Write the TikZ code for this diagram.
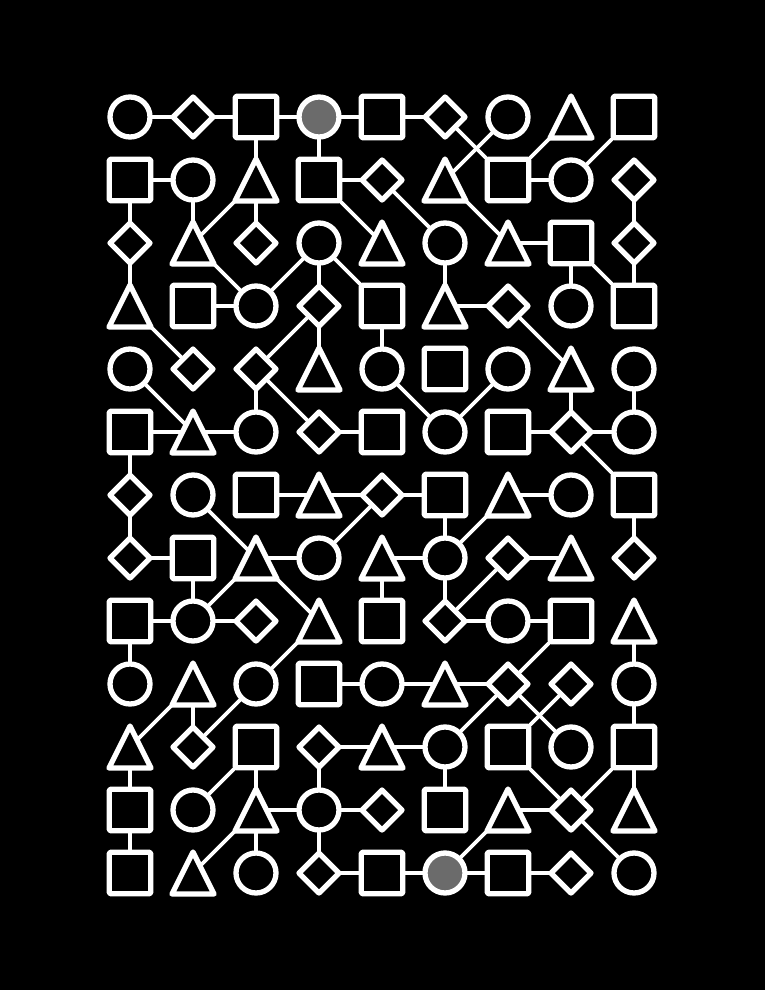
\documentclass[tikz,border=0pt]{standalone}
\definecolor{gfill}{HTML}{6B6B6B}
\tikzset{
  conn/.style={draw=white, line width=3.8pt},
  shp/.style={draw=white, line width=5.3pt, fill=black, line join=round},
  pics/shpC/.style={code={\path[shp] (0pt,0pt) circle (20pt);}},
  pics/shpG/.style={code={\path[shp, fill=gfill] (0pt,0pt) circle (20pt);}},
  pics/shpS/.style={code={\path[shp, rounded corners=1.5pt] (-20.8pt,-20.8pt) rectangle (20.8pt,20.8pt);}},
  pics/shpD/.style={code={\path[shp] (0pt,20pt) -- (20pt,0pt) -- (0pt,-20pt) -- (-20pt,0pt) -- cycle;}},
  pics/shpT/.style={code={\path[shp] (0pt,21pt) -- (21pt,-21pt) -- (-21pt,-21pt) -- cycle;}},
}
\begin{document}
\begin{tikzpicture}[x=1pt,y=-1pt]
\useasboundingbox (0,0) rectangle (765,990);
\fill[black] (0,0) rectangle (765,990);
\def\grid{{C,D,S,G,S,D,C,T,S},{S,C,T,S,D,T,S,C,D},{D,T,D,C,T,C,T,S,D},{T,S,C,D,S,T,D,C,S},{C,D,D,T,C,S,C,T,C},{S,T,C,D,S,C,S,D,C},{D,C,S,T,D,S,T,C,S},{D,S,T,C,T,C,D,T,D},{S,C,D,T,S,D,C,S,T},{C,T,C,S,C,T,D,D,C},{T,D,S,D,T,C,S,C,S},{S,C,T,C,D,S,T,D,T},{S,T,C,D,S,G,S,D,C}}
% coordinates
\foreach \row [count=\r] in \grid {
  \foreach \t [count=\c] in \row {
    \coordinate (n\r-\c) at ({67+63*\c},{54+63*\r});
  }
}
% connectors
\foreach \a/\b in {
  1-1/1-2, 1-2/1-3, 1-3/1-4, 1-4/1-5, 1-5/1-6,
  2-1/2-2, 2-4/2-5, 2-7/2-8,
  3-7/3-8,
  4-2/4-3, 4-6/4-7,
  6-1/6-2, 6-2/6-3, 6-4/6-5, 6-7/6-8, 6-8/6-9,
  7-3/7-4, 7-4/7-5, 7-5/7-6, 7-7/7-8,
  8-1/8-2, 8-3/8-4, 8-5/8-6, 8-7/8-8,
  9-1/9-2, 9-2/9-3, 9-6/9-7, 9-7/9-8,
  10-4/10-5, 10-5/10-6, 10-6/10-7,
  11-4/11-5, 11-5/11-6,
  12-3/12-4, 12-4/12-5, 12-7/12-8,
  13-4/13-5, 13-5/13-6, 13-6/13-7, 13-7/13-8,
  1-3/2-3, 1-4/2-4,
  2-1/3-1, 2-2/3-2, 2-3/3-3, 2-9/3-9,
  3-1/4-1, 3-4/4-4, 3-6/4-6, 3-8/4-8, 3-9/4-9,
  4-4/5-4, 4-5/5-5,
  5-3/6-3, 5-8/6-8, 5-9/6-9,
  6-1/7-1,
  7-1/8-1, 7-6/8-6, 7-9/8-9,
  8-2/9-2, 8-5/9-5, 8-6/9-6,
  9-1/10-1, 9-9/10-9,
  10-2/11-2, 10-9/11-9,
  11-1/12-1, 11-3/12-3, 11-4/12-4, 11-6/12-6, 11-9/12-9,
  12-1/13-1, 12-3/13-3, 12-4/13-4,
  1-6/2-7, 1-7/2-6, 1-8/2-7, 1-9/2-8,
  2-3/3-2, 2-4/3-5, 2-5/3-6, 2-6/3-7,
  3-2/4-3, 3-4/4-3, 3-4/4-5, 3-8/4-9,
  4-1/5-2, 4-4/5-3, 4-7/5-8,
  5-1/6-2, 5-3/6-4, 5-5/6-6, 5-7/6-6,
  6-8/7-9,
  7-2/8-3, 7-5/8-4, 7-7/8-6,
  8-3/9-2, 8-3/9-4, 8-7/9-6,
  9-4/10-3, 9-8/10-7,
  10-2/11-1, 10-3/11-2, 10-7/11-6, 10-7/11-8, 10-8/11-7,
  11-3/12-2, 11-7/12-8, 11-9/12-8,
  12-3/13-2, 12-7/13-6, 12-8/13-9}
  \draw[conn] (n\a) -- (n\b);
% shapes
\foreach \row [count=\r] in \grid {
  \foreach \t [count=\c] in \row {
    \pic at (n\r-\c) {shp\t};
  }
}
\end{tikzpicture}
\end{document}
